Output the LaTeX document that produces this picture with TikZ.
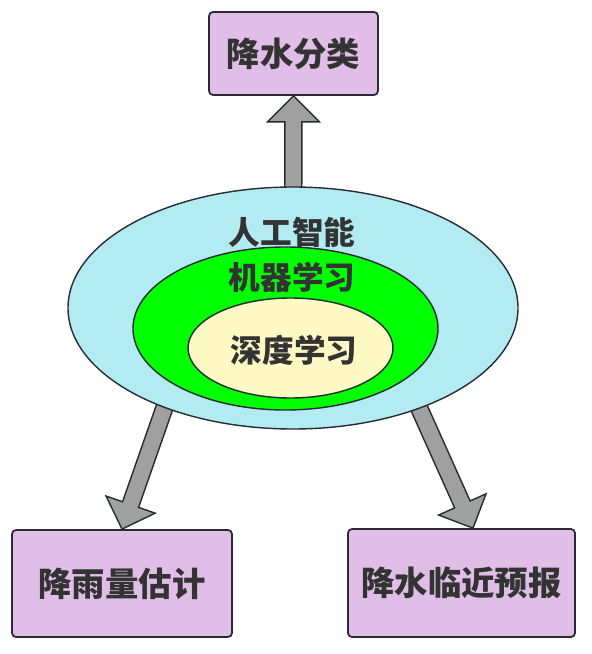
\documentclass[tikz,border=0pt]{standalone}
\usepackage{fontspec}
\newfontfamily\cjk{Noto Sans CJK SC}
\usetikzlibrary{shapes,calc,backgrounds}
\definecolor{boxlilac}{RGB}{225,190,231}
\definecolor{aicyan}{RGB}{178,235,242}
\definecolor{mlgreen}{RGB}{0,255,0}
\definecolor{dlcream}{RGB}{255,249,196}
\definecolor{arrowgray}{RGB}{160,160,160}
\definecolor{edgedark}{RGB}{38,44,50}
\definecolor{textdark}{RGB}{51,51,51}
\tikzstyle{box-task}=[draw=edgedark, line width=1pt, fill=boxlilac, rounded corners=0.08cm, text=textdark, font=\cjk\bfseries\fontsize{19}{23}\selectfont]
\tikzstyle{blob}=[ellipse, draw=edgedark, line width=0.8pt, inner sep=0pt]
\tikzstyle{blob-label}=[text=textdark, font=\cjk\bfseries\fontsize{18}{22}\selectfont]
\tikzstyle{fat-arrow}=[draw=edgedark, line width=0.8pt, fill=arrowgray, line join=miter]
\newcommand{\fatarrow}[2]{%
  \coordinate (h) at ($(#2)!0.52cm!(#1)$);
  \draw [fat-arrow] ($(#1)!0.17cm!90:(#2)$) -- ($(h)!0.17cm!90:(#2)$) -- ($(h)!0.52cm!90:(#2)$) -- (#2)
    -- ($(h)!0.52cm!-90:(#2)$) -- ($(h)!0.17cm!-90:(#2)$) -- ($(#1)!0.17cm!-90:(#2)$) -- cycle;}
\begin{document}
\begin{tikzpicture}
	\useasboundingbox (0,0) rectangle (11.82,-13.08);
	% nodes
	 \node [box-task, minimum width=3.38cm, minimum height=1.66cm] (cls) at (5.87,-1.07) {降水分类};
	 \node [box-task, minimum width=4.4cm, minimum height=2.14cm] (est) at (2.44,-11.67) {降雨量估计};
	 \node [box-task, minimum width=4.54cm, minimum height=2.16cm] (nowc) at (9.23,-11.66) {降水临近预报};

	 \node [blob, fill=aicyan, minimum width=9cm, minimum height=4.84cm] (ai) at (5.86,-6.16) {};
	 \node [blob, fill=mlgreen, minimum width=6.1cm, minimum height=3.26cm] (ml) at (5.71,-6.57) {};
	 \node [blob, fill=dlcream, minimum width=4.1cm, minimum height=2cm] (dl) at (5.81,-6.96) {};

	 \node [blob-label] (ailabel) at (5.84,-4.64) {人工智能};
	 \node [blob-label] (mllabel) at (5.84,-5.54) {机器学习};
	 \node [blob-label] (dllabel) at (5.88,-7.0) {深度学习};

	 \coordinate (estfrom) at (3.44,-7.72);
	 \coordinate (nowcfrom) at (8.23,-7.82);

	 % arrows
	 \begin{scope}[on background layer]
	 \fatarrow{ai.center}{cls.south}
	 \fatarrow{estfrom}{est.north}
	 \fatarrow{nowcfrom}{[xshift=0.23cm]nowc.north}
	 \end{scope}
\end{tikzpicture}
\end{document}
